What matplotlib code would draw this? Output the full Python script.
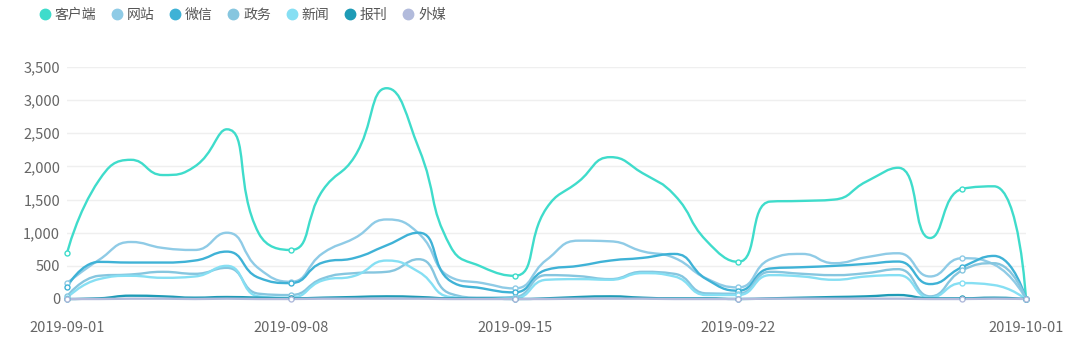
import numpy as np
import pandas as pd
import matplotlib
matplotlib.use("Agg")
import matplotlib.pyplot as plt
from matplotlib.path import Path
from matplotlib.patches import PathPatch
from matplotlib.lines import Line2D
from matplotlib.ticker import FuncFormatter

plt.rcParams['font.family'] = ['Noto Sans CJK SC', 'DejaVu Sans']

# ===============================
# DATA
# ===============================
dates = pd.date_range("2019-09-01", "2019-10-01").strftime("%Y-%m-%d").tolist()
series_names = ["客户端", "网站", "微信", "政务", "新闻", "报刊", "外媒"]

kehuduan = [690, 1790, 2100, 1870, 2000, 2560, 990, 740, 1640, 2150, 3180, 2280, 790, 480, 350,
            1370, 1770, 2140, 1900, 1570, 880, 560, 1470, 1480, 1500, 1770, 1980, 920, 1660, 1700, 0]
wangzhan = [240, 590, 860, 770, 740, 1000, 460, 260, 690, 920, 1200, 990, 330, 240, 160,
            590, 880, 870, 720, 620, 310, 175, 600, 680, 540, 630, 690, 340, 615, 520, 0]
weixin = [180, 560, 550, 550, 580, 715, 320, 240, 550, 620, 810, 1000, 270, 160, 100,
          440, 500, 580, 620, 680, 300, 125, 460, 480, 500, 530, 565, 225, 480, 650, 0]
zhengwu = [40, 350, 370, 410, 380, 470, 80, 60, 310, 390, 410, 600, 80, 20, 30,
           360, 345, 300, 410, 380, 85, 80, 410, 380, 360, 390, 450, 40, 430, 540, 0]
xinwen = [20, 300, 350, 320, 340, 500, 40, 20, 280, 350, 580, 410, 30, 10, 10,
          290, 300, 290, 390, 340, 60, 60, 360, 340, 290, 340, 360, 20, 240, 210, 0]
baokan = [0, 10, 50, 40, 20, 30, 20, 10, 20, 30, 40, 30, 10, 10, 0,
          10, 30, 40, 20, 10, 10, 0, 10, 20, 30, 40, 60, 10, 10, 20, 0]
waimei = [0, 0, 5, 5, 0, 5, 0, 0, 5, 5, 5, 5, 0, 0, 0,
          0, 5, 5, 5, 0, 0, 0, 5, 5, 5, 5, 5, 0, 0, 5, 0]

colors = ["#3fdccb", "#8fcbe6", "#3fb2d6", "#86c6df", "#86dff3", "#1e9bb6", "#b2bbdc"]
marker_days = [0, 7, 14, 21, 28, 30]
xtick_days = [0, 7, 14, 21, 30]

# ===============================
# LAYOUT
# ===============================
W, H = 1080, 354
X0, X1, Y0, Y1 = 67, 1026, 299, 67
YMAX = 3500


def clamp(v, a, b):
    return min(max(v, min(a, b)), max(a, b))


def smooth_path(xs, ys, sx, sy, smooth=0.5):
    # bezier smoothing like echarts 5 (no overshoot past neighbours), in pixel space
    px = [float(v) * sx for v in xs]
    py = [float(v) * sy for v in ys]
    n = len(px)
    verts = [(px[0], py[0])]
    codes = [Path.MOVETO]
    cpx0, cpy0 = px[0], py[0]
    for i in range(1, n):
        x, y = px[i], py[i]
        if i == n - 1:
            ncx, ncy = x, y
            cx1, cy1 = x, y
        else:
            prx, pry = px[i - 1], py[i - 1]
            nxx, nxy = px[i + 1], py[i + 1]
            vx, vy = nxx - prx, nxy - pry
            lp = np.hypot(x - prx, y - pry)
            ln = np.hypot(nxx - x, nxy - y)
            r = ln / (ln + lp) if (ln + lp) else 0.5
            cx1 = clamp(x + vx * smooth * r, x, nxx)
            cy1 = clamp(y + vy * smooth * r, y, nxy)
            vx, vy = cx1 - x, cy1 - y
            ncx = clamp(x - vx * lp / ln, prx, x) if ln else x
            ncy = clamp(y - vy * lp / ln, pry, y) if ln else y
            vx, vy = x - ncx, y - ncy
            cx1 = x + vx * ln / lp if lp else x
            cy1 = y + vy * ln / lp if lp else y
        verts += [(cpx0, cpy0), (ncx, ncy), (x, y)]
        codes += [Path.CURVE4] * 3
        cpx0, cpy0 = cx1, cy1
    verts = np.array(verts) / [sx, sy]
    return Path(verts, codes)


fig = plt.figure(figsize=(W / 100, H / 100), dpi=100)
ax = fig.add_axes([X0 / W, 1 - Y0 / H, (X1 - X0) / W, (Y0 - Y1) / H])

sx = (X1 - X0) / 30
sy = (Y0 - Y1) / YMAX

all_series = [kehuduan, wangzhan, weixin, zhengwu, xinwen, baokan, waimei]
days = np.arange(len(dates))

for vals, col in zip(all_series, colors):
    path = smooth_path(days, vals, sx, sy)
    ax.add_patch(PathPatch(path, fill=False, edgecolor=col, lw=1.7,
                           capstyle='round', joinstyle='round', clip_on=False))
    ax.plot(days[marker_days], np.asarray(vals)[marker_days], 'o', ms=3.6,
            mfc='white', mec=col, mew=1.0, clip_on=False, zorder=5)

ax.set_xlim(0, 30)
ax.set_ylim(0, YMAX)
ax.set_yticks(np.arange(0, 3501, 500))
ax.yaxis.set_major_formatter(FuncFormatter(lambda v, _: f"{int(v):,}"))
ax.set_xticks(xtick_days)
ax.set_xticklabels([dates[d] for d in xtick_days])
ax.grid(axis='y', color='#efefef', lw=1)
ax.set_axisbelow(True)
for s in ax.spines.values():
    s.set_visible(False)
ax.tick_params(axis='y', length=0, pad=5, labelsize=10.5, labelcolor='#666666')
ax.tick_params(axis='x', length=0, pad=16, labelsize=10.5, labelcolor='#666666')

handles = [Line2D([], [], ls='none', marker='o', ms=7.5, mfc=c, mec=c) for c in colors]
fig.legend(handles, series_names, loc='upper left', bbox_to_anchor=(0.022, 1.012),
           ncol=7, frameon=False, fontsize=10, labelcolor='#555555',
           handletextpad=0.1, columnspacing=0.9, handlelength=1.2)

fig.savefig("out.png", dpi=100)
